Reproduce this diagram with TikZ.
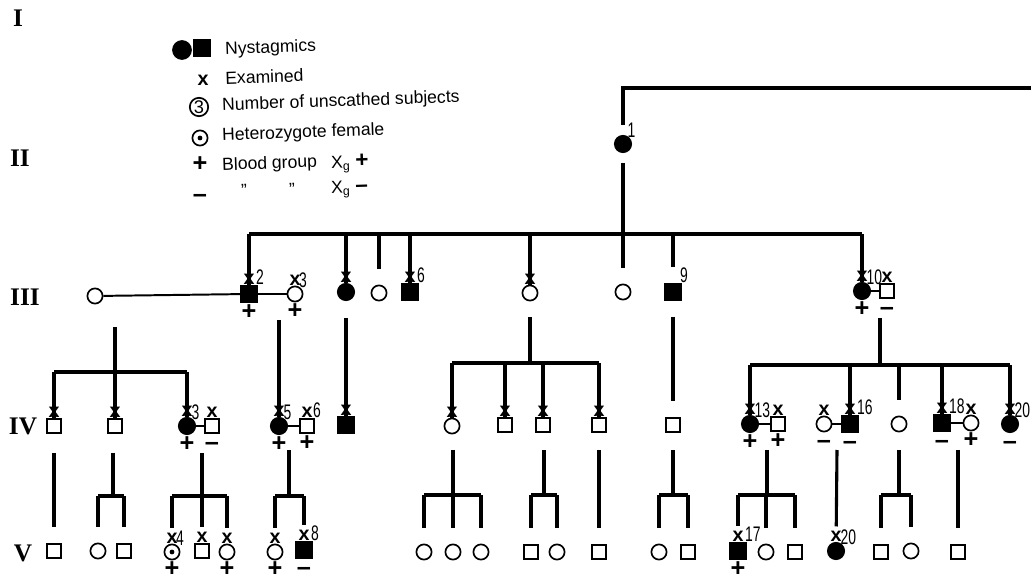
\documentclass[tikz,border=0pt]{standalone}
\usepackage{fontspec}
\setmainfont{Liberation Sans}
\newfontfamily\genfont{Liberation Serif}
\newfontfamily\nrfont[FakeStretch=0.66]{Liberation Sans}

\tikzset{
  fem/.style={circle, draw, line width=1.2pt, inner sep=0pt, minimum size=0.38cm},
  mal/.style={rectangle, draw, line width=1.2pt, inner sep=0pt, minimum size=0.36cm},
  aff/.style={fill=black, minimum size=0.41cm},
  het/.style={fem, path picture={\fill (path picture bounding box.center) circle (1.7pt);}},
  xmark/.style={font=\fontsize{14}{14}\bfseries, inner sep=0pt},
  ex/.style={label={[xmark, label distance=0pt]above:x}},
  nrlab/.style={font=\nrfont\fontsize{15}{15}\selectfont, inner sep=0pt, anchor=south west, xshift=-1.5pt},
  nr/.style={label={[nrlab]45:#1}},
  bgsign/.style={font=\fontsize{18}{18}\bfseries, inner sep=0pt, text height=7pt, text depth=0pt},
  bgplus/.style={label={[bgsign, anchor=center, yshift=-8pt]below:+}},
  bgminus/.style={label={[bgsign, anchor=center, yshift=-8pt]below:\textendash}},
  desc/.style={line width=2.2pt},
  mar/.style={line width=1.4pt},
  stopshort/.style={shorten >=11pt},
  keytext/.style={anchor=west, inner sep=0pt, font=\fontsize{12.5}{15}\selectfont, rotate=2},
  genlab/.style={inner sep=0pt, font=\genfont\fontsize{18}{18}\bfseries}
}

\begin{document}
\begin{tikzpicture}[x=0.025cm, y=-0.025cm]
  \useasboundingbox (0,0) rectangle (1031,582);

  % generation numerals
  \node[genlab] (gI) at (18,18) {I};
  \node[genlab] (gII) at (20,158) {II};
  \node[genlab] (gIII) at (25,297) {III};
  \node[genlab] (gIV) at (23,426) {IV};
  \node[genlab] (gV) at (23,553) {V};

  % key
  \node[fem, aff, minimum size=0.45cm] (keyf) at (182,50) {};
  \node[mal, aff] (keym) at (202,48) {};
  \node[keytext] (key1) at (225,50) {Nystagmics};
  \node[xmark] (keyx) at (203,80) {x};
  \node[keytext] (key2) at (225,78) {Examined};
  \node[fem, minimum size=0.46cm, font=\fontsize{13}{13}\selectfont] (key3) at (199,107) {3};
  \node[keytext] (key3t) at (222,106) {Number of unscathed subjects};
  \node[het] (keyh) at (200,138) {};
  \node[keytext] (key4) at (222,136) {Heterozygote female};
  \node[bgsign] (keyp) at (200,167) {+};
  \node[keytext] (key5) at (222,166) {Blood group};
  \node[keytext] (key5b) at (331,164) {X\textsubscript{g} {\fontsize{16}{16}\bfseries+}};
  \node[bgsign] (keyn) at (200,198) {\textendash};
  \node[keytext] (key6a) at (241,190) {"};
  \node[keytext] (key6b) at (289,189) {"};
  \node[keytext] (key6c) at (331,190) {X\textsubscript{g} {\fontsize{16}{16}\bfseries\textendash}};

  % generation II
  \node[fem, aff, nr=1] (f1) at (623,144) {};

  % generation III
  \node[fem] (c3a) at (95,296) {};
  \node[mal, aff, ex, nr=2, bgplus] (s2) at (249,294) {};
  \node[fem, ex, nr=3, bgplus] (c3) at (295,294) {};
  \node[fem, aff, ex] (f3c) at (346,292) {};
  \node[fem] (c3d) at (379,293) {};
  \node[mal, aff, ex, nr=6] (s6) at (410,292) {};
  \node[fem, ex] (c3e) at (530,293) {};
  \node[fem] (c3f) at (623,292) {};
  \node[mal, aff, nr=9] (s9) at (673,292) {};
  \node[fem, aff, ex, nr=10, bgplus] (f10) at (862,291) {};
  \node[mal, ex, bgminus] (s10) at (887,291) {};

  % generation IV
  \node[mal, ex] (s4a) at (54,426) {};
  \node[mal, ex] (s4b) at (115,426) {};
  \node[fem, aff, ex, nr=3, bgplus] (f4c) at (187,426) {};
  \node[mal, ex, bgminus] (s4d) at (212,426) {};
  \node[fem, aff, ex, nr=5, bgplus] (f5) at (279,426) {};
  \node[mal, ex, nr=6, bgplus] (s4f) at (307,426) {};
  \node[mal, aff, ex] (s4g) at (346,425) {};
  \node[fem, ex] (c4h) at (452,426) {};
  \node[mal, ex] (s4i) at (505,425) {};
  \node[mal, ex] (s4j) at (543,425) {};
  \node[mal, ex] (s4k) at (599,425) {};
  \node[mal] (s4l) at (673,425) {};
  \node[fem, aff, ex, nr=13, bgplus] (f13) at (750,424) {};
  \node[mal, ex, bgplus] (s4m) at (778,424) {};
  \node[fem, ex, bgminus] (c4n) at (824,424) {};
  \node[mal, aff, ex, nr=16, bgminus] (s16) at (850,424) {};
  \node[fem] (c4o) at (899,424) {};
  \node[mal, aff, ex, nr=18, bgminus] (s18) at (942,423) {};
  \node[fem, ex, bgplus] (c4p) at (971,423) {};
  \node[fem, aff, ex, nr=20, bgminus] (f20) at (1010,424) {};

  % generation V
  \node[mal] (s5a) at (54,551) {};
  \node[fem] (c5b) at (98,551) {};
  \node[mal] (s5c) at (124,551) {};
  \node[het, ex, nr=4, bgplus] (h5) at (172,552) {};
  \node[mal, ex] (s5e) at (202,551) {};
  \node[fem, ex, bgplus] (c5f) at (227,552) {};
  \node[fem, ex, bgplus] (c5g) at (275,552) {};
  \node[mal, aff, ex, nr=8, bgminus] (s8) at (304,550) {};
  \node[fem] (c5h) at (424,552) {};
  \node[fem] (c5i) at (453,552) {};
  \node[fem] (c5j) at (481,552) {};
  \node[mal] (s5k) at (531,552) {};
  \node[fem] (c5l) at (557,552) {};
  \node[mal] (s5m) at (599,552) {};
  \node[fem] (c5n) at (659,552) {};
  \node[mal] (s5o) at (688,552) {};
  \node[mal, aff, ex, nr=17, bgplus] (s17) at (738,551) {};
  \node[fem] (c5p) at (766,552) {};
  \node[mal] (s5q) at (795,552) {};
  \node[fem, aff, ex, nr=20] (f20b) at (836,551) {};
  \node[mal] (s5r) at (881,552) {};
  \node[fem] (c5s) at (911,551) {};
  \node[mal] (s5t) at (958,552) {};

  % lines to generations I and III
  \coordinate (topR) at (1031,88);
  \coordinate (bIII) at (623,234);
  \draw[desc, shorten <=7pt] (f1) -- (f1 |- topR) -- (topR);
  \draw[desc, shorten <=7pt] (f1) -- (bIII);
  \draw[desc] (s2 |- bIII) -- (f10 |- bIII);
  \foreach \n in {s2, f3c, s6, c3e, f10}
    \draw[desc] (\n |- bIII) -- (\n);
  \foreach \n in {c3d, c3f, s9}
    \draw[desc, stopshort] (\n |- bIII) -- (\n);

  % marriages
  \draw[mar] (c3a) -- (s2);
  \draw[mar] (s2) -- (c3);
  \draw[mar] (f10) -- (s10);
  \draw[mar] (f4c) -- (s4d);
  \draw[mar] (f5) -- (s4f);
  \draw[mar] (f13) -- (s4m);
  \draw[mar] (c4n) -- (s16);
  \draw[mar] (s18) -- (c4p);

  % descent to generation IV
  \coordinate (d2a) at (115,327);
  \coordinate (b2a) at (115,372);
  \draw[desc] (d2a) -- (b2a);
  \draw[desc] (s4a |- b2a) -- (f4c |- b2a);
  \foreach \n in {s4a, s4b, f4c}
    \draw[desc] (\n |- b2a) -- (\n);
  \coordinate (d2b) at (279,320);
  \draw[desc] (d2b) -- (f5);
  \coordinate (d3c) at (346,318);
  \draw[desc] (d3c) -- (s4g);
  \coordinate (d3e) at (530,317);
  \coordinate (b3e) at (530,363);
  \draw[desc] (d3e) -- (b3e);
  \draw[desc] (c4h |- b3e) -- (s4k |- b3e);
  \foreach \n in {c4h, s4i, s4j, s4k}
    \draw[desc] (\n |- b3e) -- (\n);
  \coordinate (d9) at (673,317);
  \draw[desc, stopshort] (d9) -- (s4l);
  \coordinate (d10) at (880,318);
  \coordinate (b10) at (880,365);
  \draw[desc] (d10) -- (b10);
  \draw[desc] (f13 |- b10) -- (f20 |- b10);
  \foreach \n in {f13, s16, s18, f20}
    \draw[desc] (\n |- b10) -- (\n);
  \draw[desc, stopshort] (c4o |- b10) -- (c4o);

  % descent to generation V
  \coordinate (d4a) at (54,453);
  \draw[desc, stopshort] (d4a) -- (s5a);
  \coordinate (d4b) at (113,453);
  \coordinate (b4b) at (113,496);
  \draw[desc] (d4b) -- (b4b);
  \draw[desc] (c5b |- b4b) -- (s5c |- b4b);
  \foreach \n in {c5b, s5c}
    \draw[desc, stopshort] (\n |- b4b) -- (\n);
  \coordinate (d4c) at (202,453);
  \coordinate (b4c) at (202,496);
  \draw[desc] (d4c) -- (b4c);
  \draw[desc] (h5 |- b4c) -- (c5f |- b4c);
  \foreach \n in {h5, s5e, c5f}
    \draw[desc, stopshort] (\n |- b4c) -- (\n);
  \coordinate (d5) at (289,450);
  \coordinate (b5) at (289,496);
  \draw[desc] (d5) -- (b5);
  \draw[desc] (c5g |- b5) -- (s8 |- b5);
  \foreach \n in {c5g, s8}
    \draw[desc, stopshort] (\n |- b5) -- (\n);
  \coordinate (d4h) at (453,450);
  \coordinate (b4h) at (453,495);
  \draw[desc] (d4h) -- (b4h);
  \draw[desc] (c5h |- b4h) -- (c5j |- b4h);
  \foreach \n in {c5h, c5i, c5j}
    \draw[desc, stopshort] (\n |- b4h) -- (\n);
  \coordinate (d4j) at (544,450);
  \coordinate (b4j) at (544,495);
  \draw[desc] (d4j) -- (b4j);
  \draw[desc] (s5k |- b4j) -- (c5l |- b4j);
  \foreach \n in {s5k, c5l}
    \draw[desc, stopshort] (\n |- b4j) -- (\n);
  \coordinate (d4k) at (599,450);
  \draw[desc, stopshort] (d4k) -- (s5m);
  \coordinate (d4l) at (673,450);
  \coordinate (b4l) at (673,495);
  \draw[desc] (d4l) -- (b4l);
  \draw[desc] (c5n |- b4l) -- (s5o |- b4l);
  \foreach \n in {c5n, s5o}
    \draw[desc, stopshort] (\n |- b4l) -- (\n);
  \coordinate (d13) at (767,450);
  \coordinate (b13) at (767,495);
  \draw[desc] (d13) -- (b13);
  \draw[desc] (s17 |- b13) -- (s5q |- b13);
  \foreach \n in {s17, c5p, s5q}
    \draw[desc, stopshort] (\n |- b13) -- (\n);
  \coordinate (d16) at (837,450);
  \draw[desc, stopshort] (d16) -- (f20b);
  \coordinate (d4o) at (899,450);
  \coordinate (b4o) at (899,495);
  \draw[desc] (d4o) -- (b4o);
  \draw[desc] (s5r |- b4o) -- (c5s |- b4o);
  \foreach \n in {s5r, c5s}
    \draw[desc, stopshort] (\n |- b4o) -- (\n);
  \coordinate (d18) at (958,450);
  \draw[desc, stopshort] (d18) -- (s5t);
\end{tikzpicture}
\end{document}
